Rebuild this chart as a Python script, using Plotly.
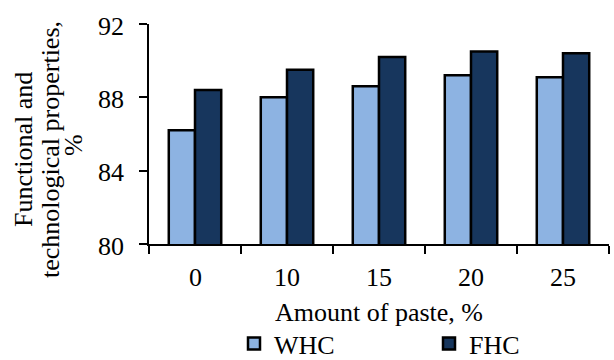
import plotly.graph_objects as go

categories = ["0", "10", "15", "20", "25"]
whc = [86.2, 88.0, 88.6, 89.2, 89.1]
fhc = [88.4, 89.5, 90.2, 90.5, 90.4]
series_names = ["WHC", "FHC"]
y_ticks = [80, 84, 88, 92]
y_title_lines = ["Functional and", "technological properties,", "%"]

FONT = "Liberation Serif"
L, R, T, B = 149, 5, 24, 116
W, H = 614, 360
pw = W - L - R
ph = H - T - B

def px_to_paper_x(px):
    return (px - L) / pw

def px_to_paper_y(py):
    return (H - B - py) / ph

fig = go.Figure()
fig.add_trace(go.Bar(x=categories, y=whc, name=series_names[0],
                     marker=dict(color="#8DB3E2", line=dict(color="black", width=2.5))))
fig.add_trace(go.Bar(x=categories, y=fhc, name=series_names[1],
                     marker=dict(color="#17365D", line=dict(color="black", width=2.5))))

fig.update_layout(
    width=W, height=H,
    margin=dict(l=L, r=R, t=T, b=B, autoexpand=False),
    paper_bgcolor="white", plot_bgcolor="white",
    barmode="group", bargap=0.43, bargroupgap=0,
    font=dict(family=FONT, size=26, color="black"),
    showlegend=True,
    legend=dict(orientation="h", x=px_to_paper_x(234), y=px_to_paper_y(320),
                xanchor="left", yanchor="top",
                font=dict(family=FONT, size=26, color="black"),
                entrywidth=150, entrywidthmode="pixels",
                bgcolor="rgba(0,0,0,0)", traceorder="normal"),
)
fig.update_xaxes(
    type="category", range=[-0.5, len(categories) - 0.5],
    showline=True, linecolor="black", linewidth=2,
    ticks="outside", ticklen=8, tickwidth=1.5, tickcolor="black",
    tickson="boundaries", showgrid=False, zeroline=False,
    showticklabels=False,
    automargin=False, fixedrange=True,
)
fig.update_yaxes(
    range=[80, 92], tickvals=y_ticks,
    showline=True, linecolor="black", linewidth=2,
    ticks="outside", ticklen=8, tickwidth=1.5, tickcolor="black",
    showgrid=False, zeroline=False, showticklabels=False,
    automargin=False, fixedrange=True,
)
for v in y_ticks:
    fig.add_annotation(
        text=str(v), xref="paper", yref="y", x=px_to_paper_x(126), y=v,
        xanchor="right", yanchor="middle", yshift=-2, showarrow=False,
        font=dict(family=FONT, size=26, color="black"),
    )
for i, c in enumerate(categories):
    fig.add_annotation(
        text=c, xref="x", yref="paper", x=i, y=px_to_paper_y(277.5),
        xanchor="center", yanchor="middle", showarrow=False,
        font=dict(family=FONT, size=26, color="black"),
    )
fig.add_annotation(
    text="Amount of paste, %", xref="paper", yref="paper",
    x=0.5, y=px_to_paper_y(312.5), xanchor="center", yanchor="middle",
    showarrow=False, font=dict(family=FONT, size=26, color="black"),
)
for line, cx, cy in zip(y_title_lines, [23, 50, 73], [150, 150, 145]):
    fig.add_annotation(
        text=line, xref="paper", yref="paper",
        x=px_to_paper_x(cx), y=px_to_paper_y(cy), xanchor="center", yanchor="middle",
        textangle=-90, showarrow=False, font=dict(family=FONT, size=26, color="black"),
    )
fig.write_html("out.html")
